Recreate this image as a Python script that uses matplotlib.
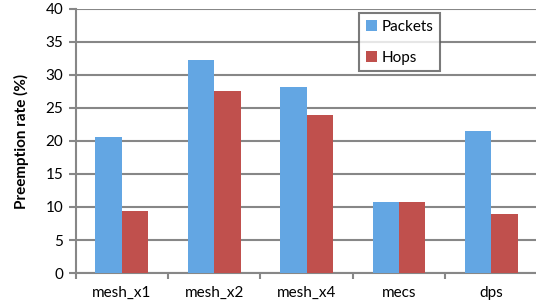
import numpy as np
import matplotlib.pyplot as plt

categories = ["mesh_x1", "mesh_x2", "mesh_x4", "mecs", "dps"]
packets = [20.6, 32.3, 28.1, 10.8, 21.5]
hops = [9.4, 27.6, 24.0, 10.8, 8.9]

plt.rcParams['font.family'] = ['Lato', 'DejaVu Sans']

fig = plt.figure(figsize=(5.36, 3.08), dpi=100)
ax = fig.add_axes([0.141, 0.1136, 0.862, 0.8574])

x = np.arange(len(categories))
w = 0.285
ax.bar(x - w / 2, packets, w, color="#63A6E3", label="Packets", zorder=3)
ax.bar(x + w / 2, hops, w, color="#C0504D", label="Hops", zorder=3)

ax.set_xlim(-0.5, len(categories) - 0.5)
ax.set_ylim(0, 40)
ax.set_yticks(np.arange(0, 41, 5))
ax.yaxis.grid(True, color="#878787", linewidth=1.5, zorder=0)
ax.set_axisbelow(True)

ax.set_xticks(np.arange(len(categories) + 1) - 0.5)
ax.set_xticklabels([])
ax.set_xticks(x, minor=True)
ax.set_xticklabels(categories, minor=True)
ax.tick_params(axis="x", which="minor", length=0, labelsize=11, pad=9)
ax.tick_params(axis="x", which="major", length=4, width=1.5, color="#878787")
ax.tick_params(axis="y", length=5, width=1.5, color="#878787", labelsize=11, pad=4)

for s in ["top", "right"]:
    ax.spines[s].set_visible(False)
for s in ["left", "bottom"]:
    ax.spines[s].set_color("#878787")
    ax.spines[s].set_linewidth(1.5)

ax.set_ylabel("Preemption rate (%)", fontsize=11, fontweight="bold", labelpad=12)

leg = ax.legend(loc="upper left", bbox_to_anchor=(0.614, 0.985), borderaxespad=0,
                fontsize=11, frameon=True, fancybox=False, handlelength=0.7,
                handleheight=0.7, handletextpad=0.3, labelspacing=1.1, borderpad=0.45)
leg.get_frame().set_edgecolor("#595959")
leg.get_frame().set_linewidth(1.5)

fig.savefig("out.png", dpi=100)
